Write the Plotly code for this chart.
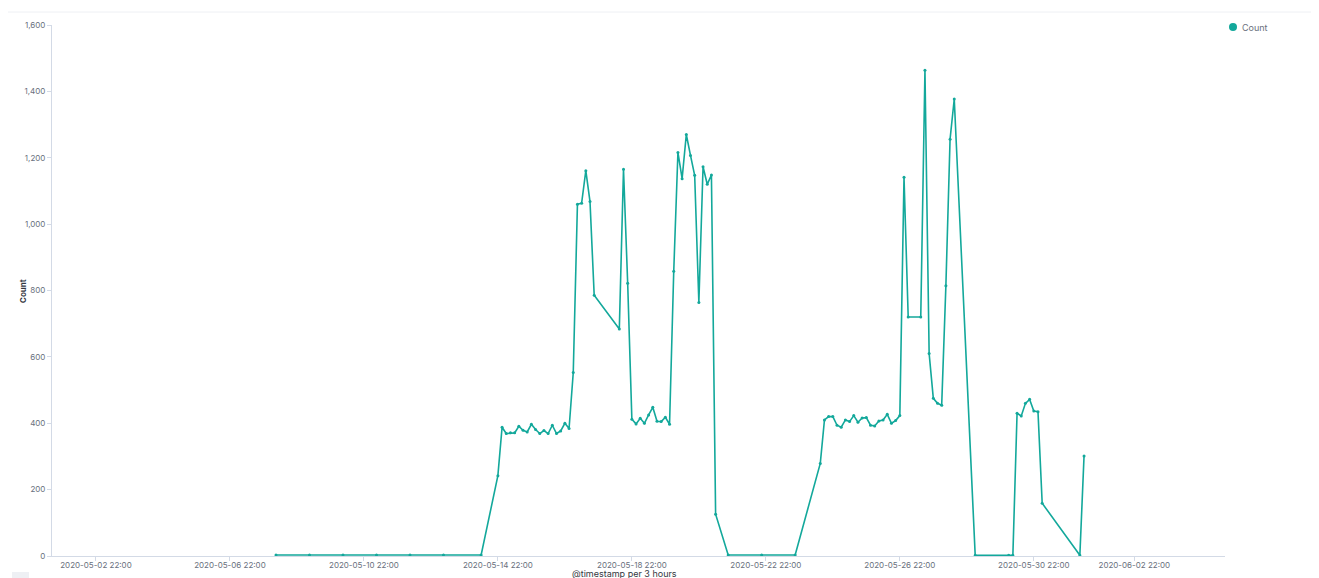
import plotly.graph_objects as go

# ---- data (3-hour buckets) ----
timestamps = [
    "2020-05-08 07:00", "2020-05-09 07:00", "2020-05-10 07:00", "2020-05-11 07:00",
    "2020-05-12 07:00", "2020-05-13 07:00", "2020-05-14 10:00",
    "2020-05-14 22:00",
    "2020-05-15 01:00", "2020-05-15 04:00", "2020-05-15 07:00", "2020-05-15 10:00",
    "2020-05-15 13:00", "2020-05-15 16:00", "2020-05-15 19:00", "2020-05-15 22:00",
    "2020-05-16 01:00", "2020-05-16 04:00", "2020-05-16 07:00", "2020-05-16 10:00",
    "2020-05-16 13:00", "2020-05-16 16:00", "2020-05-16 19:00", "2020-05-16 22:00",
    "2020-05-17 01:00", "2020-05-17 04:00", "2020-05-17 07:00", "2020-05-17 10:00",
    "2020-05-17 13:00", "2020-05-17 16:00", "2020-05-17 19:00",
    "2020-05-18 13:00", "2020-05-18 16:00", "2020-05-18 19:00", "2020-05-18 22:00",
    "2020-05-19 01:00", "2020-05-19 04:00", "2020-05-19 07:00", "2020-05-19 10:00",
    "2020-05-19 13:00", "2020-05-19 16:00", "2020-05-19 19:00", "2020-05-19 22:00",
    "2020-05-20 01:00", "2020-05-20 04:00", "2020-05-20 07:00", "2020-05-20 10:00",
    "2020-05-20 13:00", "2020-05-20 16:00", "2020-05-20 19:00", "2020-05-20 22:00",
    "2020-05-21 01:00", "2020-05-21 04:00", "2020-05-21 07:00", "2020-05-21 10:00",
    "2020-05-21 19:00", "2020-05-22 19:00", "2020-05-23 19:00",
    "2020-05-24 13:00", "2020-05-24 16:00", "2020-05-24 19:00", "2020-05-24 22:00",
    "2020-05-25 01:00", "2020-05-25 04:00", "2020-05-25 07:00", "2020-05-25 10:00",
    "2020-05-25 13:00", "2020-05-25 16:00", "2020-05-25 19:00", "2020-05-25 22:00",
    "2020-05-26 01:00", "2020-05-26 04:00", "2020-05-26 07:00", "2020-05-26 10:00",
    "2020-05-26 13:00", "2020-05-26 16:00", "2020-05-26 19:00", "2020-05-26 22:00",
    "2020-05-27 01:00", "2020-05-27 04:00",
    "2020-05-27 13:00", "2020-05-27 16:00", "2020-05-27 19:00", "2020-05-27 22:00",
    "2020-05-28 01:00", "2020-05-28 04:00", "2020-05-28 07:00", "2020-05-28 10:00",
    "2020-05-28 13:00",
    "2020-05-29 04:00",
    "2020-05-30 04:00", "2020-05-30 07:00", "2020-05-30 10:00", "2020-05-30 13:00",
    "2020-05-30 16:00", "2020-05-30 19:00", "2020-05-30 22:00", "2020-05-31 01:00",
    "2020-05-31 04:00",
    "2020-06-01 07:00", "2020-06-01 10:00",
]

counts = [
    3, 3, 3, 3, 3, 3, 3,
    242,
    388, 369, 371, 371, 391, 379, 374, 397,
    381, 369, 378, 369, 394, 369, 377, 400,
    384, 553, 1060, 1063, 1161, 1068, 786,
    684, 1165, 822, 412,
    398, 415, 400, 425, 448, 406, 405, 418,
    397, 858, 1216, 1137, 1270, 1207, 1147, 764,
    1173, 1120, 1148, 126,
    3, 3, 3,
    279, 410, 420, 420,
    394, 388, 410, 405, 423, 403, 416, 417,
    394, 392, 407, 410, 427, 400, 408, 423,
    1141, 720,
    720, 1464, 610, 475,
    460, 454, 814, 1256, 1377,
    2,
    2, 2, 430, 422, 460, 472, 437, 435,
    159,
    2, 301,
]

tick_values = [
    "2020-05-02 22:00", "2020-05-06 22:00", "2020-05-10 22:00", "2020-05-14 22:00",
    "2020-05-18 22:00", "2020-05-22 22:00", "2020-05-26 22:00", "2020-05-30 22:00",
    "2020-06-02 22:00",
]
tick_labels = tick_values

x_range = ["2020-05-01 14:30", "2020-06-05 15:00"]
y_ticks = [0, 200, 400, 600, 800, 1000, 1200, 1400, 1600]
series_name = "Count"

LINE = "#13a89b"
FONT = "Inter, 'Open Sans', sans-serif"

fig = go.Figure()
fig.add_trace(go.Scatter(
    x=timestamps, y=counts, name=series_name, mode="lines+markers",
    line=dict(color=LINE, width=1.6),
    marker=dict(color=LINE, size=3),
    showlegend=False,
))

# page has an 8px body margin; figure coordinates = screen - 8
OFF = 8
W, H = 1311, 570
L, R, T, B = 44, 94, 17, 22
pw, ph = W - L - R, H - T - B

def px_x(p):
    return (p - OFF - L) / pw

def px_y(p):
    return (H - B - (p - OFF)) / ph

fig.update_layout(
    width=W, height=H,
    margin=dict(l=L, r=R, t=T, b=B, autoexpand=False),
    paper_bgcolor="white", plot_bgcolor="white",
    font=dict(family=FONT, color="#69707d", size=8),
    showlegend=False,
    xaxis=dict(
        type="date", range=x_range,
        tickvals=tick_values, ticktext=tick_labels,
        showgrid=False, zeroline=False,
        showline=True, linecolor="#d3dae6", linewidth=1,
        ticks="outside", ticklen=4, tickcolor="#d3dae6",
        ticklabelstandoff=-3,
        tickfont=dict(size=8, color="#69707d"),
    ),
    yaxis=dict(
        range=[0, 1600], tickvals=y_ticks, tickformat=",d",
        showgrid=False, zeroline=False,
        showline=True, linecolor="#d3dae6", linewidth=1,
        ticks="outside", ticklen=4, tickcolor="#d3dae6",
        tickfont=dict(size=8, color="#69707d"),
    ),
    annotations=[
        dict(text="<b>Count</b>", textangle=-90, xref="paper", yref="paper",
             x=px_x(16), y=px_y(291), showarrow=False,
             font=dict(size=8, color="#343741")),
        dict(text="@timestamp per 3 hours", xref="paper", yref="paper",
             x=px_x(624), y=px_y(573), yanchor="middle", showarrow=False,
             font=dict(size=9, color="#343741")),
        dict(text=series_name, xref="paper", yref="paper",
             x=px_x(1240), y=px_y(27), xanchor="left", yanchor="middle",
             showarrow=False, font=dict(size=9, color="#69707d")),
    ],
    shapes=[
        dict(type="rect", xref="paper", yref="paper",
             x0=px_x(6), x1=px_x(1330), y0=px_y(590), y1=px_y(12),
             line=dict(color="#eef0f4", width=1), fillcolor="rgba(0,0,0,0)", layer="below"),
        dict(type="rect", xref="paper", yref="paper",
             x0=px_x(12), x1=px_x(29), y0=px_y(590), y1=px_y(572),
             line=dict(width=0), fillcolor="#eef0f4", layer="below"),
        dict(type="circle", xref="paper", yref="paper",
             x0=px_x(1229), x1=px_x(1237), y0=px_y(31), y1=px_y(23),
             line=dict(width=0), fillcolor=LINE),
    ],
)

fig.write_html("out.html")
